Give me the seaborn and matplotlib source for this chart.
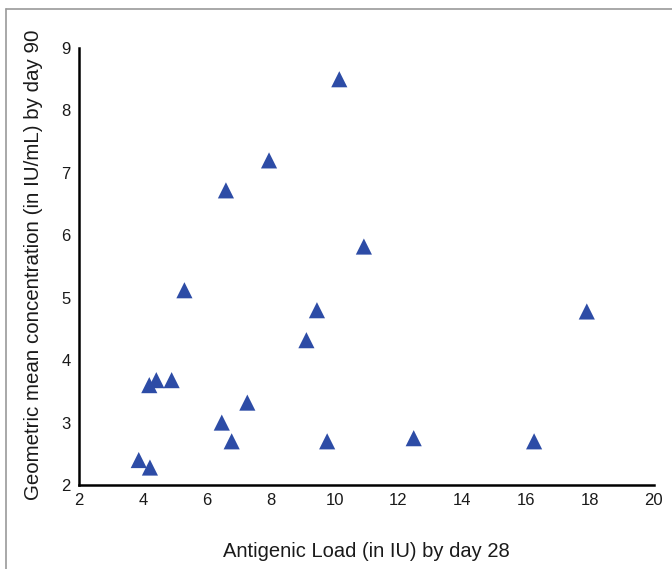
import matplotlib
matplotlib.use("Agg")
import matplotlib.pyplot as plt
import seaborn as sns
import pandas as pd
from matplotlib.lines import Line2D

antigenic_load = [10.15, 7.95, 6.6, 10.92, 5.3, 9.45, 17.9, 9.12, 4.42, 4.9, 4.2,
                  7.27, 6.47, 6.78, 9.77, 12.48, 16.25, 3.87, 4.22]
gmc = [8.5, 7.2, 6.72, 5.82, 5.12, 4.8, 4.78, 4.32, 3.68, 3.68, 3.6,
       3.32, 3.0, 2.7, 2.7, 2.75, 2.7, 2.4, 2.28]
x_ticks = [2, 4, 6, 8, 10, 12, 14, 16, 18, 20]
y_ticks = [2, 3, 4, 5, 6, 7, 8, 9]

df = pd.DataFrame({"load": antigenic_load, "gmc": gmc})

sns.set_style("white")
plt.rcParams['font.family'] = ['Liberation Sans', 'DejaVu Sans']

fig = plt.figure(figsize=(6.72, 5.69), dpi=100)
ax = fig.add_axes([0.1176, 0.1476, 0.8554, 0.768])

sns.scatterplot(data=df, x="load", y="gmc", marker="^", s=135, color="#2D4CA6",
                edgecolor="none", ax=ax, clip_on=False)

ax.set_xlim(2, 20)
ax.set_ylim(2, 9)
ax.set_xticks(x_ticks)
ax.set_yticks(y_ticks)
ax.set_xticklabels([str(t) for t in x_ticks])
ax.set_yticklabels([str(t) for t in y_ticks])

for s in ["top", "right"]:
    ax.spines[s].set_visible(False)
for s in ["left", "bottom"]:
    ax.spines[s].set_color("black")
    ax.spines[s].set_linewidth(1.8)

ax.tick_params(axis="both", direction="out", length=3, width=3, color="black",
               labelsize=12, labelcolor="#1a1a1a", pad=3)

ax.set_xlabel("Antigenic Load (in IU) by day 28", fontsize=14.5, color="#1a1a1a", labelpad=24)
ax.set_ylabel("Geometric mean concentration (in IU/mL) by day 90", fontsize=14.8,
              color="#1a1a1a")
ax.yaxis.set_label_coords(-0.063, 0.505)

# figure frame (top and left edges visible)
fig.add_artist(Line2D([6/672, 6/672], [0, 1 - 9/569], transform=fig.transFigure,
                      color="#9a9a9a", lw=1.2))
fig.add_artist(Line2D([6/672, 1], [1 - 9/569, 1 - 9/569], transform=fig.transFigure,
                      color="#9a9a9a", lw=1.2))

fig.savefig("out.png", dpi=100)
